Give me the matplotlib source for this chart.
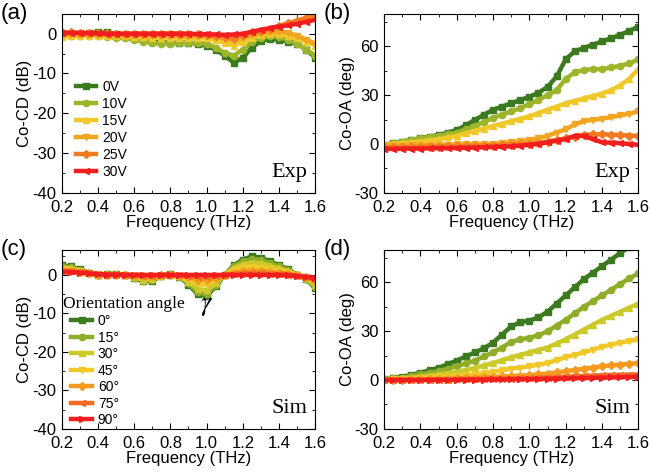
import matplotlib.pyplot as plt
from matplotlib.ticker import MultipleLocator

plt.rcParams['font.family'] = ['Liberation Sans', 'DejaVu Sans']
plt.rcParams['axes.unicode_minus'] = False
plt.rcParams['mathtext.fontset'] = 'stix'

# frequency grid (THz), read every 0.05
freq = [0.2, 0.25, 0.3, 0.35, 0.4, 0.45, 0.5, 0.55, 0.6, 0.65, 0.7, 0.75, 0.8, 0.85, 0.9,
        0.95, 1.0, 1.05, 1.1, 1.15, 1.2, 1.25, 1.3, 1.35, 1.4, 1.45, 1.5, 1.55, 1.6]

# (a) experiment, Co-CD (dB)
exp_labels = ['0V', '10V', '15V', '20V', '25V', '30V']
cd_0V = [-0.3, -0.2, 0, 0.2, 0.3, 0.3, 0, -0.5, -1, -1.5, -2, -2.2, -2.3, -2.3, -2.3, -2.5, -3, -4, -5.5, -7.3, -6, -3.5, -1.8, -1.4, -1.5, -2, -2.5, -4, -6]
cd_10V = [-0.5, -0.5, -0.5, -0.5, -0.5, -0.8, -1, -1.2, -1.5, -2, -2.3, -2.5, -2.5, -2.4, -2.3, -2.3, -2.5, -3.5, -4.8, -5.5, -4, -2, -1, -0.7, -0.8, -1.5, -2.5, -4, -5.5]
cd_15V = [-0.8, -0.7, -0.6, -0.5, -0.5, -0.5, -0.6, -0.7, -0.8, -0.9, -1, -1, -1, -1, -1.1, -1.1, -1.2, -1.6, -2.3, -3, -2, -1, -0.3, 0, 0, -0.5, -1.2, -2, -3]
cd_20V = [-0.2, -0.2, -0.2, -0.2, -0.3, -0.3, -0.3, -0.3, -0.3, -0.4, -0.4, -0.5, -0.5, -0.5, -0.5, -0.5, -0.5, -0.8, -1.3, -1.8, -1, -0.3, 0.2, 0.4, 0.5, 0.2, -0.5, -1.5, -2.5]
cd_25V = [0.3, 0.3, 0.2, 0.2, 0.1, 0.1, 0, 0, 0, 0, 0, 0, 0, 0, -0.1, -0.2, -0.3, -0.5, -0.8, -1, -0.3, 0.3, 0.8, 1.3, 2, 2.6, 3.3, 4, 4.8]
cd_30V = [0.2, 0.2, 0.2, 0.1, 0.1, 0, 0, 0, 0, 0, 0, 0, 0, 0, 0, -0.1, -0.1, -0.2, -0.3, -0.2, 0, 0.5, 1, 1.4, 1.8, 2.1, 2.5, 3, 3.5]

# (b) experiment, Co-OA (deg)
oa_0V = [-0.6, 0.5, 1.5, 2.5, 3.5, 4.5, 5.5, 7, 8.6, 11.5, 14.8, 18, 21, 23, 25, 27, 29, 31.5, 35, 41.5, 52, 57, 59, 61, 63, 65, 67, 69.5, 72]
oa_10V = [-0.6, 0.5, 1.5, 2.5, 3.5, 4.2, 5, 6, 7, 9, 11, 13.5, 16, 18, 20, 22, 24.5, 27, 30, 33, 40, 44, 45.5, 46, 46, 47, 48, 49.5, 52]
oa_15V = [-0.5, 0, 0.5, 1, 1.5, 2.2, 3, 4, 5, 6.5, 8, 9.5, 11, 12.5, 14, 15.5, 17, 19, 21, 23, 25, 26.5, 28, 29.5, 31, 33, 36, 40, 46]
oa_20V = [-1, -1, -1, -0.8, -0.7, -0.6, -0.5, -0.4, -0.3, -0.2, -0.2, -0.1, 0, 0.5, 1, 1.7, 2.5, 3.5, 5, 7, 9, 12, 14, 14.8, 15.5, 16.5, 17.5, 18.7, 20]
oa_25V = [-2, -2, -2, -1.9, -1.8, -1.7, -1.6, -1.5, -1.5, -1.3, -1.2, -1.1, -1, -0.7, -0.4, -0.2, 0, 0.7, 1.5, 2.5, 3.5, 4.5, 5.5, 6, 6, 5.8, 5.5, 5.2, 5]
oa_30V = [-3, -3, -2.9, -2.8, -2.8, -2.7, -2.6, -2.6, -2.5, -2.3, -2.2, -2, -1.8, -1.6, -1.5, -1, -0.5, 0, 1, 2, 3, 5, 5, 3, 1, 0.8, 0.5, 0, -0.5]

# (c) simulation, Co-CD (dB)
sim_labels = ['0°', '15°', '30°', '45°', '60°', '75°', '90°']
scd_0 = [2.5, 2.2, 1.5, 0.5, 0, 0.2, 0.3, 0, -0.8, -1.7, -1.5, -0.3, 0.3, -0.5, -2.5, -5, -5.5, -3, 0, 2.5, 4, 4.8, 4.5, 3.5, 2.5, 1.5, 0, -1, -3.5]
scd_15 = [2.2, 2, 1.3, 0.5, 0, 0.2, 0.2, 0, -0.7, -1.5, -1.3, -0.3, 0.2, -0.5, -2.2, -4.5, -5, -2.7, 0, 2.2, 3.5, 4.1, 3.9, 3, 2.2, 1.2, 0, -1, -3.2]
scd_30 = [1.9, 1.7, 1.1, 0.4, 0, 0.1, 0.2, 0, -0.6, -1.2, -1.1, -0.3, 0.1, -0.4, -1.8, -3.6, -4, -2.2, 0, 1.8, 2.8, 3.2, 3, 2.4, 1.7, 1, 0, -0.9, -2.7]
scd_45 = [1.5, 1.3, 0.9, 0.4, 0.1, 0.1, 0.1, 0, -0.4, -0.8, -0.8, -0.2, 0.1, -0.3, -1.2, -2.4, -2.6, -1.4, 0, 1.2, 1.8, 2, 1.9, 1.5, 1.1, 0.6, -0.1, -0.8, -2]
scd_60 = [1.2, 1.1, 0.8, 0.4, 0.1, 0.1, 0.1, 0, -0.2, -0.4, -0.4, -0.1, 0, -0.2, -0.6, -1.2, -1.3, -0.7, 0, 0.6, 0.9, 1, 1, 0.8, 0.6, 0.3, -0.1, -0.6, -1.5]
scd_75 = [1, 0.9, 0.7, 0.4, 0.2, 0.1, 0.1, 0, -0.1, -0.2, -0.2, -0.1, 0, -0.1, -0.3, -0.5, -0.6, -0.3, 0, 0.2, 0.4, 0.4, 0.4, 0.3, 0.2, 0.1, -0.2, -0.5, -1.2]
scd_90 = [0.8, 0.7, 0.6, 0.4, 0.2, 0.1, 0.1, 0, 0, 0, 0, 0, 0, 0, 0, 0, 0, 0, 0, 0, 0, 0, 0, 0, 0, -0.1, -0.3, -0.5, -0.9]

# (d) simulation, Co-OA (deg)
soa_0 = [0.5, 1.2, 2, 3.2, 4.5, 6, 7.5, 9.7, 12, 14.5, 17, 19.5, 23, 28, 33, 35.5, 36.5, 38.5, 42, 47, 52, 57, 62, 66, 70, 74, 78, 82, 86]
soa_15 = [0.5, 1, 1.5, 2.5, 3.5, 4.5, 5.5, 7, 8.5, 10.2, 12, 14.5, 17, 20, 23.5, 25, 26, 27.5, 30, 33.5, 37, 41, 45, 48.5, 52, 55.5, 59, 62.5, 65.5]
soa_30 = [0.5, 0.7, 1, 1.5, 2, 2.7, 3.5, 4.2, 5, 6.2, 7.5, 9, 10.5, 12.2, 14, 15.5, 17, 18.5, 20, 22.5, 25, 28, 31, 34, 37, 39.5, 42, 44.5, 47]
soa_45 = [0.3, 0.4, 0.5, 0.7, 1, 1.3, 1.6, 2, 2.5, 3, 3.5, 4.2, 5, 6, 7, 7.7, 8.5, 9.5, 10.5, 12.2, 14, 15.5, 17, 18.7, 20.5, 21.7, 23, 24, 25]
soa_60 = [0.2, 0.2, 0.3, 0.4, 0.5, 0.6, 0.7, 0.8, 1, 1.2, 1.4, 1.7, 2, 2.2, 2.5, 2.7, 3, 3.5, 4, 4.7, 5.5, 6.2, 7, 7.7, 8.5, 9, 9.5, 10, 10.5]
soa_75 = [0, 0, 0.1, 0.1, 0.1, 0.2, 0.2, 0.3, 0.4, 0.5, 0.6, 0.7, 0.8, 0.9, 0.9, 1, 1, 1.3, 1.5, 1.7, 2, 2.3, 2.5, 2.8, 3, 3.2, 3.3, 3.4, 3.5]
soa_90 = [0, 0, 0, 0, 0, 0.1, 0.1, 0.1, 0.2, 0.2, 0.3, 0.3, 0.4, 0.4, 0.5, 0.5, 0.6, 0.7, 0.8, 0.9, 1, 1.1, 1.2, 1.4, 1.5, 1.6, 1.7, 1.9, 2]

exp_colors = ['#3b7a1f', '#9db52b', '#f0c82a', '#f0a620', '#f47a22', '#f21e1e']
exp_markers = ['s', 'o', '^', 'v', 'D', '<']
sim_colors = ['#3b7a1f', '#8fad28', '#ccc92a', '#f0c82a', '#f49a20', '#f46a26', '#f21e1e']
sim_markers = ['s', 'o', '^', 'v', 'D', '<', '>']

fig = plt.figure(figsize=(6.5, 4.76), dpi=100)
ax_a = fig.add_axes([0.095, 0.595, 0.39, 0.376])
ax_b = fig.add_axes([0.591, 0.595, 0.391, 0.376])
ax_c = fig.add_axes([0.095, 0.099, 0.39, 0.376])
ax_d = fig.add_axes([0.591, 0.099, 0.391, 0.376])


def draw(ax, series, labels, colors, markers):
    for ys, lab, c, m in zip(series, labels, colors, markers):
        ax.plot(freq, ys, color=c, lw=3.2, marker=m, ms=4.5, mec=c, label=lab)


draw(ax_a, [cd_0V, cd_10V, cd_15V, cd_20V, cd_25V, cd_30V], exp_labels, exp_colors, exp_markers)
draw(ax_b, [oa_0V, oa_10V, oa_15V, oa_20V, oa_25V, oa_30V], exp_labels, exp_colors, exp_markers)
draw(ax_c, [scd_0, scd_15, scd_30, scd_45, scd_60, scd_75, scd_90], sim_labels, sim_colors, sim_markers)
draw(ax_d, [soa_0, soa_15, soa_30, soa_45, soa_60, soa_75, soa_90], sim_labels, sim_colors, sim_markers)

for ax, ylab, ylim, step, tag, name in [
        (ax_a, 'Co-CD (dB)', (-40, 5), 10, '(a)', 'Exp'),
        (ax_b, 'Co-OA (deg)', (-30, 80), 30, '(b)', 'Exp'),
        (ax_c, 'Co-CD (dB)', (-40, 6.5), 10, '(c)', 'Sim'),
        (ax_d, 'Co-OA (deg)', (-30, 80), 30, '(d)', 'Sim')]:
    ax.set_xlim(0.2, 1.6)
    ax.set_ylim(*ylim)
    ax.xaxis.set_major_locator(MultipleLocator(0.2))
    ax.xaxis.set_minor_locator(MultipleLocator(0.1))
    ax.yaxis.set_major_locator(MultipleLocator(step))
    ax.yaxis.set_minor_locator(MultipleLocator(step / 2))
    ax.xaxis.set_major_formatter(plt.FuncFormatter(lambda v, p: f'{v:.1f}'))
    ax.tick_params(which='both', direction='in', top=True, right=True, labelsize=12)
    ax.tick_params(which='major', length=4)
    ax.tick_params(axis='x', which='major', pad=5)
    ax.tick_params(axis='y', which='major', pad=4)
    ax.tick_params(which='minor', length=2)
    ax.set_xlabel('Frequency (THz)', fontsize=12, labelpad=0)
    ax.set_ylabel(ylab, fontsize=12, labelpad=0)
    ax.text(0.97, 0.06, name, transform=ax.transAxes, ha='right', va='bottom',
            fontsize=16, family='Liberation Serif')
    ax.text(-0.24, 1.0, tag, transform=ax.transAxes, ha='left', va='center', fontsize=16)

ax_a.legend(loc='lower left', bbox_to_anchor=(0.0, 0.0), frameon=False, fontsize=10,
            handlelength=1.5, handletextpad=0.4, labelspacing=0.22, borderaxespad=0.6)

ax_c.legend(loc='lower left', bbox_to_anchor=(0.0, -0.045), frameon=False, fontsize=10,
            handlelength=1.5, handletextpad=0.4, labelspacing=0.18, borderaxespad=0.3)
ax_c.text(0.005, 0.70, 'Orientation angle', transform=ax_c.transAxes, ha='left', va='center',
          fontsize=12.5, family='Liberation Serif')
ax_c.text(0.545, 0.685, '$\\gamma$', transform=ax_c.transAxes, ha='left', va='center',
          fontsize=19)

fig.savefig('out.png', dpi=100)
